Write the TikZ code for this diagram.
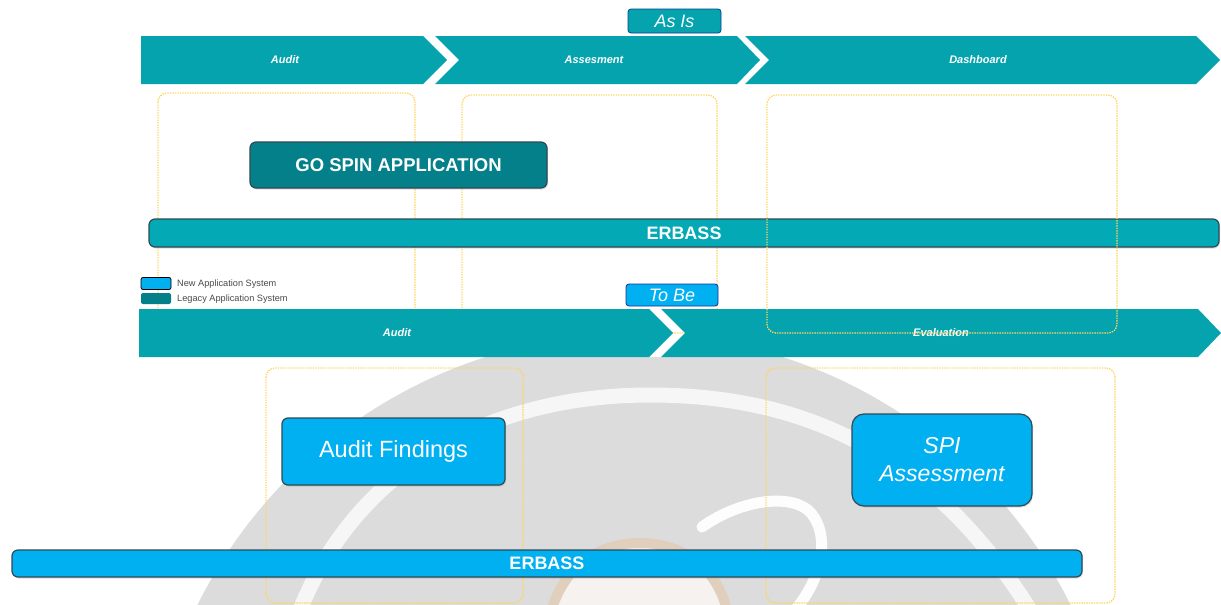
\documentclass[tikz,border=0pt]{standalone}
\usepackage{fontspec}
\setmainfont{Liberation Sans}
\usetikzlibrary{shadows}

\definecolor{bandteal}{HTML}{04A3AD}
\definecolor{legacyteal}{HTML}{03808A}
\definecolor{barteal}{HTML}{03A9B4}
\definecolor{newblue}{HTML}{00B0F0}
\definecolor{edgedark}{HTML}{2E4A55}
\definecolor{zoneorange}{HTML}{FFD45E}
\definecolor{markgray}{HTML}{DCDCDC}
\definecolor{legendtext}{HTML}{4A4A4A}

\tikzset{
  zone/.style={draw=zoneorange, dash pattern=on 1.4pt off 1.1pt, line width=1.3pt, rounded corners=9pt},
  band/.style={fill=bandteal, draw=none},
  bandlabel/.style={font=\fontsize{11}{12}\selectfont\bfseries\itshape, text=white},
  sysbox/.style={draw=edgedark, line width=1.2pt, rounded corners=6pt, text=white,
    inner sep=0pt, drop shadow={shadow xshift=1pt, shadow yshift=-1.5pt, opacity=0.25}},
  tagbox/.style={rounded corners=3pt, line width=0.8pt, text=white, inner sep=0pt,
    font=\fontsize{18}{18}\selectfont\itshape},
  legendkey/.style={minimum width=30pt, minimum height=12pt, inner sep=0pt, rounded corners=2pt},
  legendlabel/.style={anchor=west, inner sep=0pt, text=legendtext, font=\fontsize{9.2}{10}\selectfont},
}

\begin{document}
\begin{tikzpicture}[x=1pt, y=-1pt]
\useasboundingbox (0,0) rectangle (1221,605);
\fill[white] (0,0) rectangle (1221,605);

% faint background emblem
\begin{scope}
  \clip (0,357) rectangle (1221,605);
  \fill[markgray] (634,821) circle (487pt);
  \draw[white, line width=15pt, opacity=0.75]
    (300,610) .. controls (360,460) and (500,395) .. (650,395)
              .. controls (800,395) and (930,450) .. (1030,610);
  \draw[white, line width=11pt, line cap=round, opacity=0.95]
    (702,527) .. controls (735,503) and (785,492) .. (808,510)
              .. controls (830,530) and (825,575) .. (795,610);
  \draw[draw=orange!14!markgray, fill=orange!4!white!75!markgray, line width=10pt]
    (550,615) .. controls (565,560) and (605,543) .. (640,543)
              .. controls (680,543) and (718,565) .. (728,615);
\end{scope}

% current-state process zones
\draw[zone] (158,93) rectangle (415,333);
\draw[zone] (462,95) rectangle (717,333);

% current-state process chevrons
\fill[band] (141,36) -- (423,36) -- (447,60) -- (423,84) -- (141,84) -- cycle;
\fill[band] (435,36) -- (737,36) -- (760,60) -- (737,84) -- (435,84) -- (459,60) -- cycle;
\fill[band] (745,36) -- (1196,36) -- (1220,60) -- (1196,84) -- (745,84) -- (769,60) -- cycle;
\node[bandlabel] (asisAudit) at (285,60) {Audit};
\node[bandlabel] (asisAssess) at (594,60) {Assesment};
\node[bandlabel] (asisDash) at (978,60) {Dashboard};

\node[tagbox, fill=bandteal, draw=black!50!blue!60!bandteal,
      minimum width=93pt, minimum height=24pt] (asis) at (674.5,21) {As Is};

% current-state systems
\node[sysbox, fill=legacyteal, minimum width=297pt, minimum height=46pt,
      font=\fontsize{18.5}{19}\selectfont\bfseries] (gospin) at (398.5,165) {GO SPIN APPLICATION};
\node[sysbox, fill=barteal, minimum width=1070pt, minimum height=28pt,
      font=\fontsize{18}{18}\selectfont\bfseries] (erbassTop) at (684,233) {ERBASS};

% legend
\node[legendkey, fill=newblue, draw=black, line width=0.8pt] (keyNew) at (156,283.5) {};
\node[legendkey, fill=legacyteal, minimum height=11pt] (keyLegacy) at (156,298.5) {};
\node[legendlabel] (lblNew) at (177,284) {New Application System};
\node[legendlabel] (lblLegacy) at (177,299) {Legacy Application System};

% target-state tag and chevrons
\node[tagbox, fill=newblue, draw=blue!40!edgedark,
      minimum width=92pt, minimum height=22pt] (tobe) at (672,295) {To Be};
\fill[band] (139,309) -- (649,309) -- (673,333) -- (649,357) -- (139,357) -- cycle;
\fill[band] (661,309) -- (1198,309) -- (1221,333) -- (1198,357) -- (661,357) -- (685,333) -- cycle;
\node[bandlabel] (tobeAudit) at (397,333) {Audit};
\node[bandlabel] (tobeEval) at (941,333) {Evaluation};

% dashboard zone overlaps the lower band
\draw[zone] (767,95) rectangle (1117,333);

% target-state process zones
\draw[zone] (266,368) rectangle (523,603);
\draw[zone] (766,368) rectangle (1115,603);

% target-state systems
\node[sysbox, fill=newblue, minimum width=223pt, minimum height=67pt,
      font=\fontsize{23.5}{24}\selectfont] (findings) at (393.5,451.5) {Audit Findings};
\node[sysbox, fill=newblue, minimum width=180pt, minimum height=92pt, rounded corners=12pt,
      align=center, font=\fontsize{23}{28}\selectfont\itshape] (spi) at (942,460) {SPI\\Assessment};
\node[sysbox, fill=newblue, minimum width=1070pt, minimum height=27pt,
      font=\fontsize{18}{18}\selectfont\bfseries] (erbassBottom) at (547,563.5) {ERBASS};
\end{tikzpicture}
\end{document}
